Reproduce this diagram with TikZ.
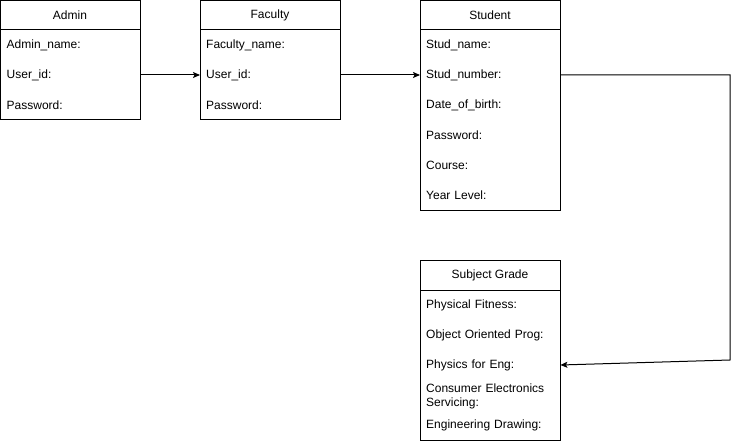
\documentclass[tikz,border=0pt]{standalone}
\usepackage{fontspec}
\setmainfont{Liberation Sans}
\usetikzlibrary{arrows.meta}
\begin{document}
\begin{tikzpicture}[x=1pt,y=-1pt,
  font=\fontsize{12}{14}\selectfont,
  frame/.style={draw=black, line width=1pt, fill=white},
  head/.style={anchor=center, inner sep=0pt},
  row/.style={anchor=west, text width=128pt, inner xsep=6pt, inner ysep=0pt, align=left},
  conn/.style={draw=black, line width=1pt, -{Stealth[length=7pt,width=6pt,inset=1.5pt]}}
]
\useasboundingbox (0,0) rectangle (739,441);

% Admin
\draw[frame] (0.5,0.5) rectangle (140,120);
\draw[line width=1pt] (0.5,30) -- (140,30);
\node[head] (adm) at (70,15) {Admin};
\node[row] (a1) at (0.5,45) {Admin\_name:};
\node[row] (a2) at (0.5,75) {User\_id:};
\node[row] (a3) at (0.5,105) {Password:};

% Faculty
\draw[frame] (200,0.5) rectangle (340,120);
\draw[line width=1pt] (200,30) -- (340,30);
\node[head] (fac) at (270,15) {Faculty};
\node[row] (f1) at (200,45) {Faculty\_name:};
\node[row] (f2) at (200,75) {User\_id:};
\node[row] (f3) at (200,105) {Password:};

% Student
\draw[frame] (420,0.5) rectangle (560,210);
\draw[line width=1pt] (420,30) -- (560,30);
\node[head] (stu) at (490,15) {Student};
\node[row] (s1) at (420,45) {Stud\_name:};
\node[row] (s2) at (420,75) {Stud\_number:};
\node[row] (s3) at (420,105) {Date\_of\_birth:};
\node[row] (s4) at (420,135) {Password:};
\node[row] (s5) at (420,165) {Course:};
\node[row] (s6) at (420,195) {Year Level:};

% Subject Grade
\draw[frame] (420,260) rectangle (560,440);
\draw[line width=1pt] (420,290) -- (560,290);
\node[head] (sg) at (490,275) {Subject Grade};
\node[row] (g1) at (420,305) {Physical Fitness:};
\node[row] (g2) at (420,335) {Object Oriented Prog:};
\node[row] (g3) at (420,365) {Physics for Eng:};
\node[row] (g4) at (420,396) {Consumer Electronics\\Servicing:};
\node[row] (g5) at (420,425) {Engineering Drawing:};

% connectors
\coordinate (c1) at (730,75);
\coordinate (c2) at (730,360);
\draw[conn] (a2.east) -- (f2.west);
\draw[conn] (f2.east) -- (s2.west);
\draw[conn] (s2.east) -- (c1) -- (c2) -- (g3.east);
\end{tikzpicture}
\end{document}
